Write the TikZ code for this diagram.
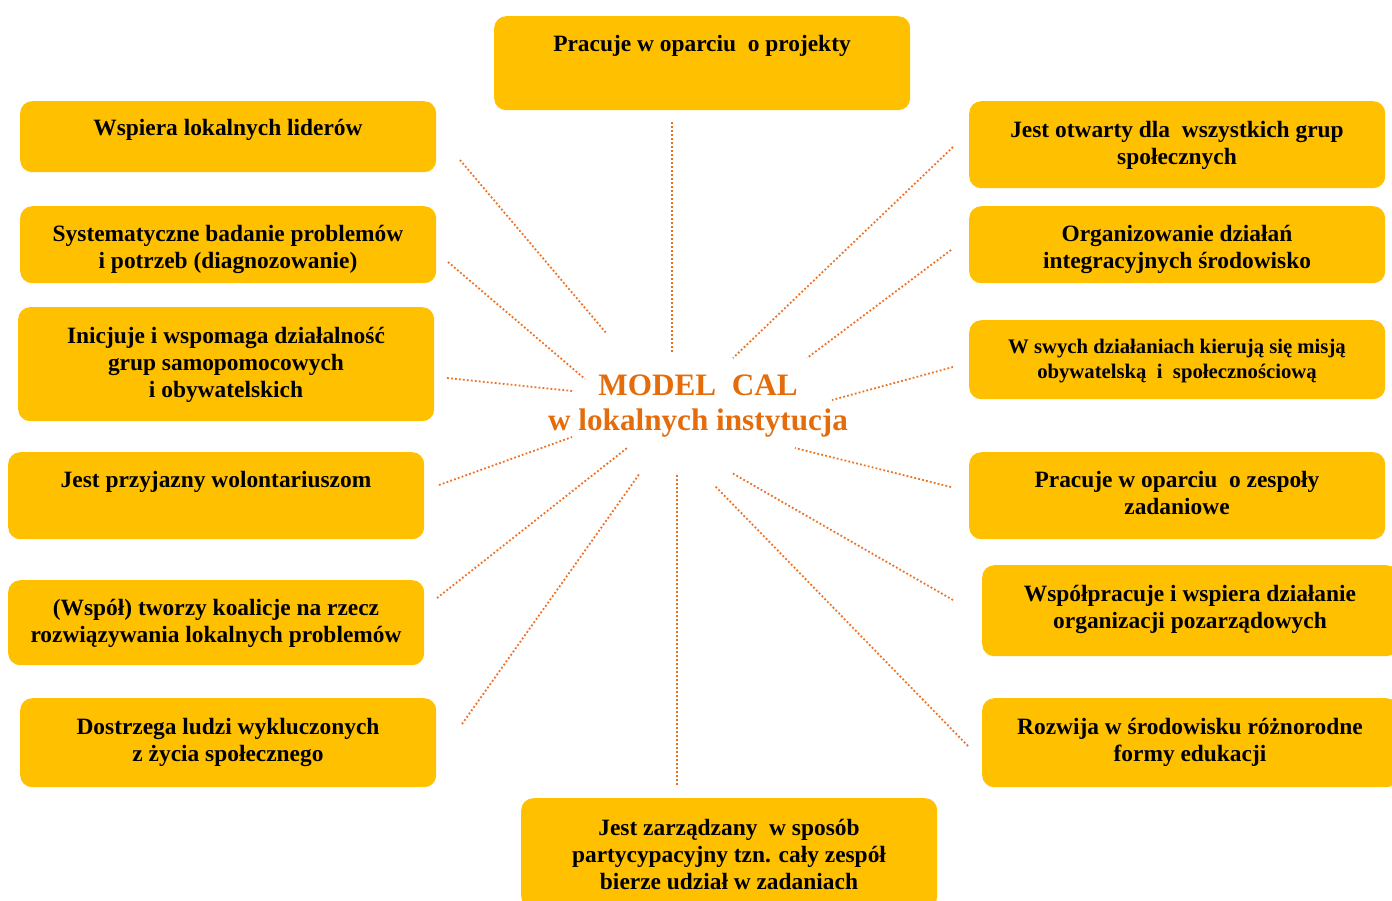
\documentclass[tikz,border=0pt]{standalone}
\usepackage{fontspec}
\setmainfont{Liberation Serif}
\definecolor{boxfill}{HTML}{FFC000}
\definecolor{cenorange}{HTML}{E46C0A}
\definecolor{dotorange}{HTML}{F07022}
\begin{document}
\begin{tikzpicture}[x=1pt,y=-1pt,
  box/.style={fill=boxfill,draw=none,rounded corners=12pt,anchor=north west,inner sep=0pt},
  txt/.style={font=\fontsize{23.4}{27}\selectfont\bfseries,align=center,anchor=north,inner sep=0pt,text=black,
    execute at begin node=\rule{0pt}{20pt}},
  txtsmall/.style={txt,font=\fontsize{20.7}{25}\selectfont\bfseries},
  ray/.style={draw=dotorange,line width=1.8pt,dash pattern=on 1.8pt off 2.2pt}]
\useasboundingbox (0,0) rectangle (1392,900);

% boxes
\node[box,minimum width=416pt,minimum height=94pt] (bT) at (494,16) {};
\node[box,minimum width=416pt,minimum height=71pt] (bL1) at (20,101) {};
\node[box,minimum width=416pt,minimum height=77pt] (bL2) at (20,206) {};
\node[box,minimum width=416pt,minimum height=114pt] (bL3) at (18,307) {};
\node[box,minimum width=416pt,minimum height=87pt] (bL4) at (8,452) {};
\node[box,minimum width=416pt,minimum height=85pt] (bL5) at (8,580) {};
\node[box,minimum width=416pt,minimum height=89pt] (bL6) at (20,698) {};
\node[box,minimum width=416pt,minimum height=110pt] (bB) at (521,798) {};
\node[box,minimum width=416pt,minimum height=87pt] (bR1) at (969,101) {};
\node[box,minimum width=416pt,minimum height=77pt] (bR2) at (969,206) {};
\node[box,minimum width=416pt,minimum height=79pt] (bR3) at (969,320) {};
\node[box,minimum width=416pt,minimum height=87pt] (bR4) at (969,452) {};
\node[box,minimum width=416pt,minimum height=91pt] (bR5) at (982,565) {};
\node[box,minimum width=416pt,minimum height=89pt] (bR6) at (982,698) {};

% texts
\node[txt] (tT) at (702,31) {Pracuje w oparciu\ \ o projekty};
\node[txt] (tL1) at (228,115) {Wspiera lokalnych liderów};
\node[txt] (tL2) at (228,225) {Systematyczne badanie problemów\\i potrzeb (diagnozowanie)};
\node[txt] (tL3) at (226,327) {Inicjuje i wspomaga działalność\\grup samopomocowych\\i obywatelskich};
\node[txt] (tL4) at (216,467) {Jest przyjazny wolontariuszom};
\node[txt] (tL5) at (216,599) {(Współ) tworzy koalicje na rzecz\\rozwiązywania lokalnych problemów};
\node[txt] (tL6) at (228,718) {Dostrzega ludzi wykluczonych\\z życia społecznego};
\node[txt] (tB) at (729,819) {Jest zarządzany\ \ w sposób\\partycypacyjny tzn. cały zespół\\bierze udział w zadaniach};
\node[txt] (tR1) at (1177,121) {Jest otwarty dla\ \ wszystkich grup\\społecznych};
\node[txt] (tR2) at (1177,225) {Organizowanie działań\\integracyjnych środowisko};
\node[txtsmall] (tR3) at (1177,339) {W swych działaniach kierują się misją\\obywatelską\ \ i\ \ społecznościową};
\node[txt] (tR4) at (1177,471) {Pracuje w oparciu\ \ o zespoły\\zadaniowe};
\node[txt] (tR5) at (1190,585) {Współpracuje i wspiera działanie\\organizacji pozarządowych};
\node[txt] (tR6) at (1190,718) {Rozwija w środowisku różnorodne\\formy edukacji};

% centre
\node[font=\fontsize{31.2}{35}\selectfont\bfseries,text=cenorange,align=center,anchor=north,inner sep=0pt,
  execute at begin node=\rule{0pt}{26pt}] (centre) at (698,375) {MODEL\ \ CAL\\w lokalnych instytucja};

% ray end points
\coordinate (aT) at (672,122);   \coordinate (cT) at (672,353);
\coordinate (aL1) at (460,160);  \coordinate (cL1) at (607,334);
\coordinate (aL2) at (448,262);  \coordinate (cL2) at (585,379);
\coordinate (aL3) at (447,378);  \coordinate (cL3) at (572,391);
\coordinate (aL4) at (439,485);  \coordinate (cL4) at (572,437);
\coordinate (aL5) at (437,598);  \coordinate (cL5) at (627,448);
\coordinate (aL6) at (462,724);  \coordinate (cL6) at (640,473);
\coordinate (aB) at (677,785);   \coordinate (cB) at (677,473);
\coordinate (aR1) at (953,147);  \coordinate (cR1) at (733,358);
\coordinate (aR2) at (951,250);  \coordinate (cR2) at (807,358);
\coordinate (aR3) at (953,367);  \coordinate (cR3) at (832,400);
\coordinate (aR4) at (951,487);  \coordinate (cR4) at (795,448);
\coordinate (aR5) at (953,600);  \coordinate (cR5) at (732,473);
\coordinate (aR6) at (968,746);  \coordinate (cR6) at (715,486);

\foreach \n in {T,L1,L2,L3,L4,L5,L6,B,R1,R2,R3,R4,R5,R6}
  \draw[ray] (a\n) -- (c\n);
\end{tikzpicture}
\end{document}
